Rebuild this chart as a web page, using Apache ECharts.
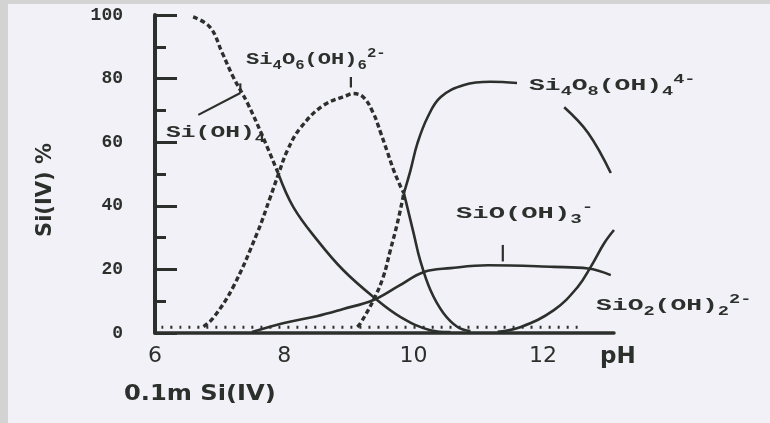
<!DOCTYPE html>
<html>
<head>
<meta charset="utf-8">
<script src="https://cdn.jsdelivr.net/npm/echarts@6/dist/echarts.min.js"></script>
<style>
  html, body { margin: 0; padding: 0; background: #f2f1f7; }
  #chart { width: 770px; height: 423px; }
</style>
</head>
<body>
<div id="chart"></div>
<script>
// Distribution of silicate species in 0.1 m Si(IV) solution vs pH (each point: [pH, % of Si(IV)])
const xTicks = [6, 8, 10, 12];
const yTicks = [0, 20, 40, 60, 80, 100];

const siOH4Dashed = [[6.59, 99.4], [6.85, 96.2], [7.04, 88.1], [7.21, 80.5], [7.43, 72.3], [7.67, 61.6], [7.91, 50]];
const siOH4Solid = [[7.91, 50], [8.14, 39.6], [8.51, 29.2], [8.91, 19.8], [9.38, 11.3], [9.80, 5.0], [10.26, 0.9], [10.57, 0.3]];

const si4o6Dashed = [[6.75, 2.0], [6.9, 4.7], [7.21, 14.5], [7.58, 31.4], [7.78, 42.5], [7.91, 50], [8.05, 57.5], [8.25, 64.5], [8.6, 71.5], [8.98, 74.8], [9.05, 75.3], [9.22, 74.2], [9.38, 69], [9.49, 63], [9.6, 56.6], [9.69, 51.3], [9.8, 46], [9.85, 44]];
const si4o6Solid = [[9.85, 44], [10.0, 31.4], [10.1, 23], [10.26, 13.5], [10.46, 6.3], [10.68, 1.9], [10.88, 0.6]];

const si4o8Dashed = [[9.13, 1.9], [9.18, 3.1], [9.38, 10.4], [9.53, 17.6], [9.64, 26], [9.75, 34.6], [9.85, 44]];
const si4o8Solid = [[9.85, 44], [9.95, 51], [10.06, 59.7], [10.22, 68], [10.42, 74.2], [10.78, 78], [11.19, 79], [11.6, 78.6], [12.0, null], [12.33, 71], [12.7, 62.9], [13.05, 50.3]];

const sioOH3 = [[7.5, 0.3], [7.98, 3.1], [8.5, 5.3], [8.9, 7.5], [9.38, 10.4], [9.77, 14.8], [10.16, 19.2], [10.57, 20.4], [11.15, 21.3], [12.17, 20.8], [12.7, 20.3], [13.05, 18.2]];

const sio2OH2Dotted = [[6.1, 1.8], [12.6, 1.8]];
const sio2OH2Solid = [[11.3, 0.4], [11.66, 1.9], [12.17, 7.2], [12.54, 14.5], [12.74, 20.8], [12.95, 28.3], [13.1, 32.4]];

// short leader strokes tying labels to curves
const leaderSiOH4 = [[6.67, 68.6], [7.32, 75.5]];
const tickSiOH4 = [[7.32, 75.5], [7.32, 78.5]];
const tickSi4o6 = [[9.03, 77.2], [9.03, 80.5]];
const tickSiOOH3 = [[11.38, 22.5], [11.38, 27.7]];

const INK = '#2c302c';

function curve(data, kind) {
  const ls = { color: INK, width: 2.6, type: 'solid' };
  if (kind === 'dash') { ls.width = 3.4; ls.type = [5, 3]; }
  if (kind === 'dot') { ls.width = 3; ls.type = [2, 7]; }
  return {
    type: 'line', data: data, smooth: 0.4, showSymbol: false, connectNulls: false,
    lineStyle: ls, silent: true, z: 3
  };
}
function stroke(data) {
  return { type: 'line', data: data, showSymbol: false, lineStyle: { color: INK, width: 2.2 }, silent: true, z: 3 };
}

const mono = '"Liberation Mono", "DejaVu Sans Mono", monospace';
const richStyle = {
  m: { fontFamily: mono, fontWeight: 'bold', fontSize: 17, lineHeight: 24, verticalAlign: 'middle', fill: INK, color: INK },
  b: { fontFamily: mono, fontWeight: 'bold', fontSize: 12, lineHeight: 24, verticalAlign: 'bottom', fill: INK, color: INK },
  t: { fontFamily: mono, fontWeight: 'bold', fontSize: 12, lineHeight: 24, verticalAlign: 'top', fill: INK, color: INK }
};
function species(text, x, y, sx) {
  return {
    type: 'text', x: x, y: y, scaleX: sx, z: 10,
    style: { text: text, rich: richStyle, fill: INK, textVerticalAlign: 'middle', verticalAlign: 'middle', align: 'left' }
  };
}

const chart = echarts.init(document.getElementById('chart'));
chart.setOption({
  backgroundColor: '#f2f1f7',
  animation: false,
  grid: { left: 155, top: 15, bottom: 90, width: 459 },
  xAxis: {
    type: 'value', min: 6, max: 13.1, interval: 2,
    axisLine: { lineStyle: { color: INK, width: 3.5 } },
    axisTick: { show: false },
    splitLine: { show: false },
    axisLabel: {
      showMaxLabel: false, margin: 12,
      color: INK, fontSize: 22, fontFamily: '"DejaVu Sans", sans-serif',
      formatter: v => (xTicks.indexOf(v) >= 0 ? String(v) : '')
    }
  },
  yAxis: {
    type: 'value', min: 0, max: 100, interval: 20,
    axisLine: { show: true, lineStyle: { color: INK, width: 4 } },
    axisTick: { show: true, inside: true, length: 22, lineStyle: { color: INK, width: 3 } },
    minorTick: { show: true, splitNumber: 2, length: 11, lineStyle: { color: INK, width: 3 } },
    splitLine: { show: false },
    axisLabel: {
      margin: 32, color: INK, fontSize: 18, fontWeight: 'bold', fontFamily: mono,
      formatter: v => (yTicks.indexOf(v) >= 0 ? String(v) : '')
    }
  },
  series: [
    curve(siOH4Dashed, 'dash'), curve(siOH4Solid, 'solid'),
    curve(si4o6Dashed, 'dash'), curve(si4o6Solid, 'solid'),
    curve(si4o8Dashed, 'dash'), curve(si4o8Solid, 'solid'),
    curve(sioOH3, 'solid'),
    curve(sio2OH2Dotted, 'dot'), curve(sio2OH2Solid, 'solid'),
    stroke(leaderSiOH4), stroke(tickSiOH4), stroke(tickSi4o6), stroke(tickSiOOH3)
  ],
  graphic: [
    { type: 'rect', shape: { x: 0, y: 0, width: 770, height: 4 }, style: { fill: '#d4d4d4' }, z: 0 },
    { type: 'rect', shape: { x: 0, y: 0, width: 8, height: 423 }, style: { fill: '#d3d3d3' }, z: 0 },
    species('{m|Si}{b|4}{m|O}{b|6}{m|(OH)}{b|6}{t|2-}', 246, 60, 1.3),
    species('{m|Si(OH)}{b|4}', 166, 133, 1.45),
    species('{m|Si}{b|4}{m|O}{b|8}{m|(OH)}{b|4}{t|4-}', 529, 86, 1.55),
    species('{m|SiO(OH)}{b|3}{t|-}', 456, 214, 1.6),
    species('{m|SiO}{b|2}{m|(OH)}{b|2}{t|2-}', 596, 306, 1.55),
    {
      type: 'text', x: 600, y: 357, z: 10,
      style: { text: 'pH', fill: INK, font: 'bold 23px "DejaVu Sans", sans-serif', textVerticalAlign: 'middle', verticalAlign: 'middle' }
    },
    {
      type: 'text', x: 124, y: 395, z: 10, scaleX: 1.15,
      style: { text: '0.1m Si(IV)', fill: INK, font: 'bold 21px "DejaVu Sans", sans-serif', textVerticalAlign: 'middle', verticalAlign: 'middle' }
    },
    {
      type: 'text', x: 46, y: 190, rotation: Math.PI / 2, z: 10,
      style: { text: 'Si(IV) %', fill: INK, font: 'bold 21px "DejaVu Sans", sans-serif', align: 'center', textAlign: 'center', textVerticalAlign: 'middle', verticalAlign: 'middle' }
    }
  ]
});
</script>
</body>
</html>
